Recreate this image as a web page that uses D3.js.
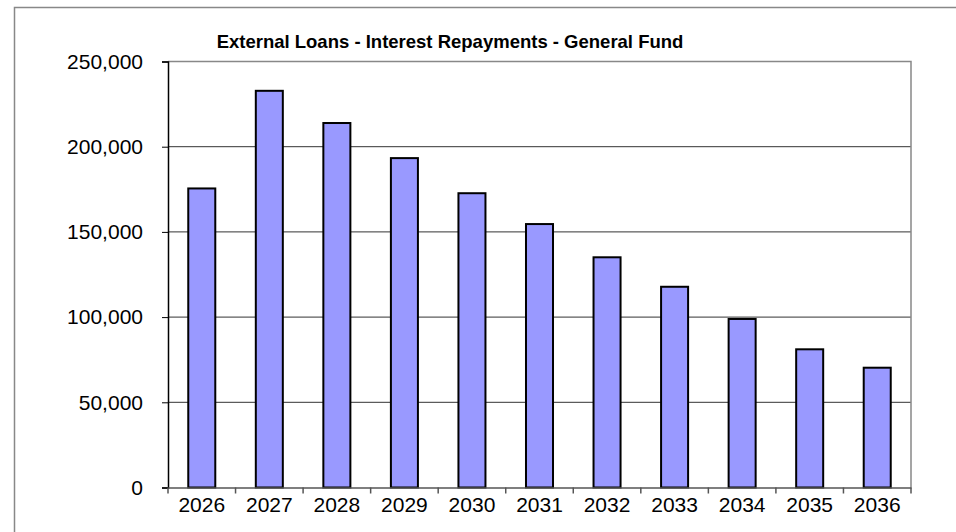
<!DOCTYPE html>
<html><head><meta charset="utf-8">
<script src="https://cdn.jsdelivr.net/npm/d3@7"></script>
<style>body{margin:0;background:#fff}svg{display:block}</style>
</head><body><svg id="c" width="956" height="532"></svg>
<script>
const categories = ["2026","2027","2028","2029","2030","2031","2032","2033","2034","2035","2036"];
const values = [175500, 232800, 213900, 193300, 172700, 154600, 135100, 117800, 98900, 81100, 70300];
const yTicks = [0, 50000, 100000, 150000, 200000, 250000];
const title = "External Loans - Interest Repayments - General Fund";

const svg = d3.select("#c");
const L = 168, R = 911, T = 61.5, B = 487.5;
const font = "'Liberation Sans', Arial, sans-serif";

// outer border
svg.append("rect").attr("x",14.5).attr("y",7.5).attr("width",1000).attr("height",600)
  .attr("fill","none").attr("stroke","#888").attr("stroke-width",1.5);

const x = d3.scaleBand().domain(categories).range([L,R]).paddingInner(0.6).paddingOuter(0.3);
const xb = d3.scaleBand().domain(categories).range([L,R]);
const y = d3.scaleLinear().domain([0,250000]).range([B,T]);

// gridlines
svg.append("g").selectAll("line").data(yTicks.filter(d=>d>0 && d<250000)).join("line")
  .attr("x1",L).attr("x2",R).attr("y1",d=>y(d)).attr("y2",d=>y(d))
  .attr("stroke","#333").attr("stroke-width",1);

// plot border top/right
svg.append("path").attr("d",`M${L},${T}H${R}V${B}`).attr("fill","none").attr("stroke","#888").attr("stroke-width",1.5);

// bars
svg.append("g").selectAll("rect").data(values).join("rect")
  .attr("x",(d,i)=>x(categories[i]))
  .attr("width",x.bandwidth())
  .attr("y",d=>y(d))
  .attr("height",d=>B-y(d))
  .attr("fill","#9999FF").attr("stroke","#000").attr("stroke-width",2);

// y axis
const ya = d3.axisLeft(y).tickValues(yTicks).tickSize(6).tickPadding(19).tickFormat(d3.format(","));
const yg = svg.append("g").attr("transform",`translate(${L},0)`).call(ya);
yg.select(".domain").attr("stroke","#000").attr("stroke-width",1.5);
yg.selectAll(".tick line").attr("stroke","#000");
yg.selectAll("text").attr("font-family",font).attr("font-size",21).attr("fill","#000");

// x axis
const xa = d3.axisBottom(xb).tickSize(0).tickPadding(10);
const xg = svg.append("g").attr("transform",`translate(0,${B})`).call(xa);
xg.select(".domain").attr("stroke","#555").attr("stroke-width",1.5);
xg.selectAll("text").attr("font-family",font).attr("font-size",21).attr("fill","#000");
// boundary ticks
const bounds = categories.map(c=>xb(c)).concat([R]);
svg.append("g").selectAll("line").data(bounds).join("line")
  .attr("x1",d=>d).attr("x2",d=>d).attr("y1",B).attr("y2",B+6)
  .attr("stroke","#555").attr("stroke-width",1.5);

// title
svg.append("text").attr("x",450).attr("y",48).attr("text-anchor","middle")
  .attr("font-family",font).attr("font-weight","bold").attr("font-size",18.5).attr("fill","#000").text(title);
</script></body></html>
